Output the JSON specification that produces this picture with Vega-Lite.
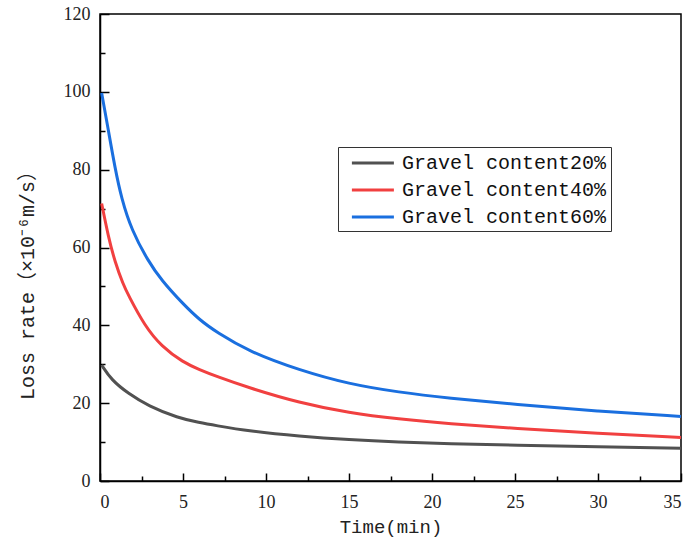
{
  "$schema": "https://vega.github.io/schema/vega-lite/v6.json",
  "width": 581,
  "height": 467,
  "autosize": {"type": "none"},
  "padding": {"left": 100, "top": 14, "right": 10, "bottom": 65},
  "background": "white",
  "config": {
    "view": {"stroke": "black", "strokeWidth": 1.5},
    "axis": {
      "grid": false,
      "domainColor": "black",
      "domainWidth": 1.5,
      "tickColor": "black",
      "tickWidth": 1.5,
      "labelFont": "Liberation Serif",
      "labelFontSize": 18,
      "labelColor": "#222222",
      "titleFont": "Liberation Mono, Noto Sans CJK SC",
      "titleFontSize": 19,
      "titleFontWeight": "normal",
      "titleColor": "#222222"
    }
  },
  "datasets": {
    "curves": [
      {"t": 0.1, "rate": 29.8, "series": "Gravel content20%"},
      {"t": 0.7, "rate": 25.9, "series": "Gravel content20%"},
      {"t": 1.7, "rate": 22.5, "series": "Gravel content20%"},
      {"t": 2.9, "rate": 19.3, "series": "Gravel content20%"},
      {"t": 4.7, "rate": 16.2, "series": "Gravel content20%"},
      {"t": 6.0, "rate": 15.0, "series": "Gravel content20%"},
      {"t": 6.9, "rate": 14.3, "series": "Gravel content20%"},
      {"t": 9.0, "rate": 12.8, "series": "Gravel content20%"},
      {"t": 12.0, "rate": 11.5, "series": "Gravel content20%"},
      {"t": 15.0, "rate": 10.6, "series": "Gravel content20%"},
      {"t": 18.0, "rate": 10.0, "series": "Gravel content20%"},
      {"t": 21.0, "rate": 9.6, "series": "Gravel content20%"},
      {"t": 25.0, "rate": 9.2, "series": "Gravel content20%"},
      {"t": 30.0, "rate": 8.8, "series": "Gravel content20%"},
      {"t": 35.0, "rate": 8.4, "series": "Gravel content20%"},
      {"t": 0.1, "rate": 71.3, "series": "Gravel content40%"},
      {"t": 0.5, "rate": 62.8, "series": "Gravel content40%"},
      {"t": 0.9, "rate": 56.3, "series": "Gravel content40%"},
      {"t": 1.4, "rate": 50.5, "series": "Gravel content40%"},
      {"t": 1.7, "rate": 47.8, "series": "Gravel content40%"},
      {"t": 2.7, "rate": 39.8, "series": "Gravel content40%"},
      {"t": 3.7, "rate": 34.6, "series": "Gravel content40%"},
      {"t": 5.0, "rate": 30.5, "series": "Gravel content40%"},
      {"t": 6.0, "rate": 28.6, "series": "Gravel content40%"},
      {"t": 7.0, "rate": 26.9, "series": "Gravel content40%"},
      {"t": 9.0, "rate": 23.9, "series": "Gravel content40%"},
      {"t": 12.0, "rate": 20.1, "series": "Gravel content40%"},
      {"t": 15.0, "rate": 17.5, "series": "Gravel content40%"},
      {"t": 18.0, "rate": 15.9, "series": "Gravel content40%"},
      {"t": 21.0, "rate": 14.7, "series": "Gravel content40%"},
      {"t": 25.0, "rate": 13.5, "series": "Gravel content40%"},
      {"t": 30.0, "rate": 12.2, "series": "Gravel content40%"},
      {"t": 35.0, "rate": 11.2, "series": "Gravel content40%"},
      {"t": 0.1, "rate": 99.7, "series": "Gravel content60%"},
      {"t": 0.5, "rate": 90.2, "series": "Gravel content60%"},
      {"t": 0.9, "rate": 80.5, "series": "Gravel content60%"},
      {"t": 1.3, "rate": 72.5, "series": "Gravel content60%"},
      {"t": 1.9, "rate": 64.5, "series": "Gravel content60%"},
      {"t": 2.9, "rate": 56.5, "series": "Gravel content60%"},
      {"t": 3.7, "rate": 51.6, "series": "Gravel content60%"},
      {"t": 5.0, "rate": 45.5, "series": "Gravel content60%"},
      {"t": 6.0, "rate": 41.4, "series": "Gravel content60%"},
      {"t": 7.0, "rate": 38.3, "series": "Gravel content60%"},
      {"t": 9.0, "rate": 33.2, "series": "Gravel content60%"},
      {"t": 12.0, "rate": 28.5, "series": "Gravel content60%"},
      {"t": 15.0, "rate": 24.9, "series": "Gravel content60%"},
      {"t": 18.0, "rate": 22.8, "series": "Gravel content60%"},
      {"t": 21.0, "rate": 21.3, "series": "Gravel content60%"},
      {"t": 25.0, "rate": 19.7, "series": "Gravel content60%"},
      {"t": 30.0, "rate": 17.9, "series": "Gravel content60%"},
      {"t": 35.0, "rate": 16.6, "series": "Gravel content60%"}
    ]
  },
  "data": {"name": "curves"},
  "resolve": {"axis": {"x": "independent", "y": "independent"}},
  "layer": [
    {
      "mark": {"type": "line", "strokeWidth": 3, "interpolate": "basis"},
      "encoding": {
        "x": {
          "field": "t", "type": "quantitative",
          "scale": {"domain": [0, 35], "nice": false},
          "axis": {"orient": "bottom", "values": [0, 5, 10, 15, 20, 25, 30, 35], "tickSize": -8, "labelPadding": 20, "title": "Time(min)", "titleY": 45, "titleBaseline": "middle"}
        },
        "y": {
          "field": "rate", "type": "quantitative",
          "scale": {"domain": [0, 120], "nice": false},
          "axis": {"orient": "left", "values": [0, 20, 40, 60, 80, 100, 120], "tickSize": -9, "labelPadding": 19, "title": "Loss rate（×10⁻⁶m/s）", "titleFontSize": 20, "titleX": -73, "titleY": 266, "titleAngle": -90, "titleAlign": "center", "titleBaseline": "middle"}
        },
        "color": {
          "field": "series", "type": "nominal",
          "scale": {"domain": ["Gravel content20%", "Gravel content40%", "Gravel content60%"], "range": ["#515151", "#F14040", "#1A6FDF"]},
          "legend": {
            "title": null,
            "orient": "none",
            "legendX": 238,
            "legendY": 133,
            "symbolType": "M-0.2,0H3.8",
            "symbolSize": 441,
            "symbolStrokeWidth": 3,
            "labelFont": "Liberation Mono",
            "labelFontSize": 20,
            "labelColor": "#111111",
            "labelOffset": 36,
            "labelLimit": 400,
            "rowPadding": 5,
            "padding": 4,
            "strokeColor": "#333333",
            "fillColor": "white"
          }
        }
      }
    },
    {
      "mark": {"type": "line", "opacity": 0},
      "encoding": {
        "x": {
          "field": "t", "type": "quantitative",
          "axis": {"orient": "bottom", "values": [2.5, 7.5, 12.5, 17.5, 22.5, 27.5, 32.5], "tickSize": -5, "labels": false, "domain": false, "title": null}
        },
        "y": {
          "field": "rate", "type": "quantitative",
          "axis": {"orient": "left", "values": [10, 30, 50, 70, 90, 110], "tickSize": -5, "labels": false, "domain": false, "title": null}
        }
      }
    }
  ]
}
